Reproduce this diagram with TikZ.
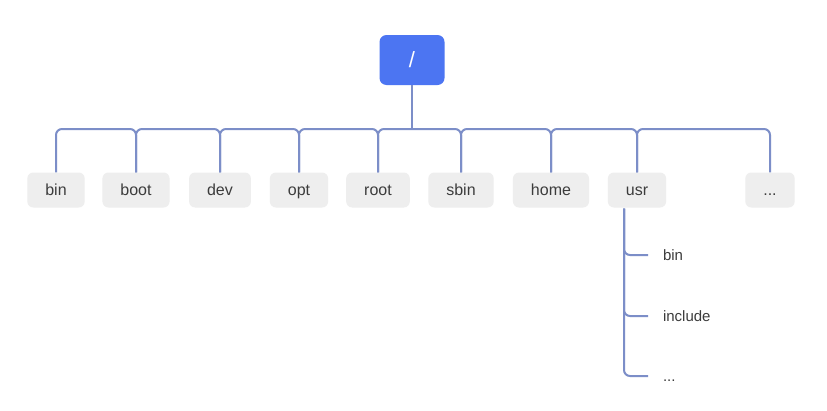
\documentclass[tikz,border=0pt]{standalone}
\usepackage{fontspec}
\setmainfont{Liberation Sans}
\usepackage{tikz}
\usetikzlibrary{calc}
\definecolor{rootblue}{RGB}{76,117,242}
\definecolor{linkblue}{RGB}{124,142,200}
\definecolor{boxgray}{RGB}{238,238,238}
\definecolor{textgray}{RGB}{60,60,60}
\tikzset{
    rootbox/.style={draw=none, fill=rootblue, rounded corners=7pt, text=white,
        minimum width=65pt, minimum height=50pt, font=\fontsize{22}{26}\selectfont},
    dirbox/.style={draw=none, fill=boxgray, rounded corners=6pt, text=textgray,
        inner xsep=18pt, inner ysep=0pt, text height=13pt, text depth=2pt,
        minimum height=35pt, font=\fontsize{16}{19}\selectfont},
    leaf/.style={anchor=west, inner sep=0pt, outer xsep=15pt, text=textgray,
        text height=12pt, text depth=2pt, font=\fontsize{15}{18}\selectfont},
    link/.style={draw=linkblue, line width=2pt, rounded corners=6pt},
}

\begin{document}
\begin{tikzpicture}[x=1pt, y=-1pt]
\useasboundingbox[fill=white] (0,0) rectangle (827,410);

\node[rootbox] (root) at (412,60) {/};
\coordinate (bus) at (0,129);

\node[dirbox] (bin)  at (56,190)  {bin};
\node[dirbox] (boot) at (136,190) {boot};
\node[dirbox] (dev)  at (220,190) {dev};
\node[dirbox] (opt)  at (299,190) {opt};
\node[dirbox] (rt)   at (378,190) {root};
\node[dirbox] (sbin) at (461,190) {sbin};
\node[dirbox] (home) at (551,190) {home};
\node[dirbox] (usr)  at (637,190) {usr};
\node[dirbox] (more) at (770,190) {...};

% usr sub tree
\node[leaf] (ubin) at (648,255) {bin};
\node[leaf] (uinc) at (648,316) {include};
\node[leaf] (umore) at (648,376) {...};
\coordinate (trunk) at ($(usr.south)+(-13,1)$);

\draw[link] (root.south) -- (root.south |- bus);
\foreach \a/\b in {bin/boot, boot/dev, dev/opt, opt/rt, rt/sbin, sbin/home, home/usr, usr/more}
    \draw[link] (\a.north) -- (\a.north |- bus) -- (\b.north |- bus) -- (\b.north);

\foreach \l in {ubin, uinc, umore}
    \draw[link] (trunk) |- (\l.west);
\end{tikzpicture}
\end{document}
